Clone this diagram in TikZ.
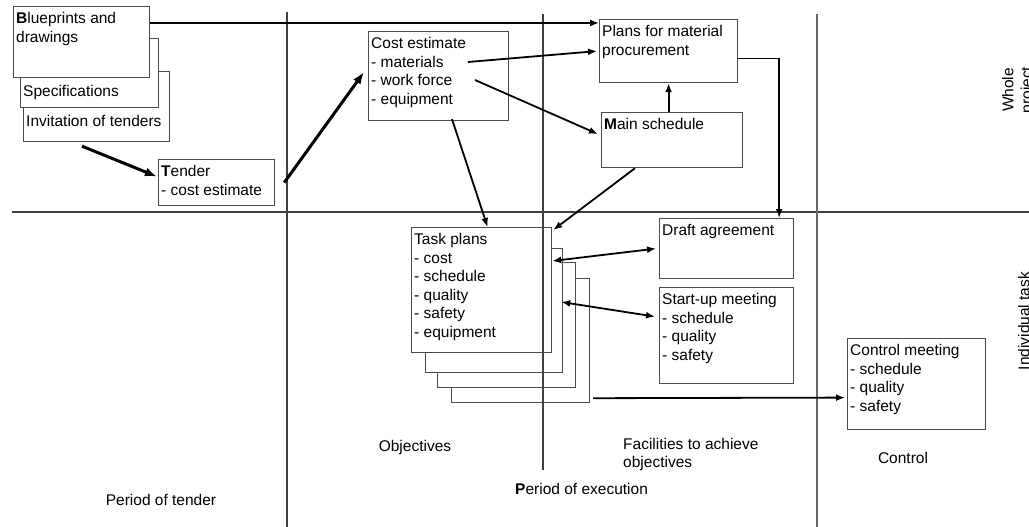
\documentclass[tikz,border=0pt]{standalone}
\usepackage{fontspec}
\setmainfont{Liberation Sans}
\usetikzlibrary{arrows.meta, positioning, calc}

\begin{document}
\begin{tikzpicture}[x=1pt, y=-1pt,
        box/.style={draw=black!70, fill=white, line width=1.2pt, anchor=north west, inner sep=0pt},
        txt/.style={anchor=north west, align=left, inner xsep=3pt, inner ysep=6.5pt, font=\fontsize{15.5}{18.5}\selectfont},
        caption/.style={align=left, font=\fontsize{15.5}{18.5}\selectfont},
        divider/.style={draw=black!75, line width=1.2pt},
        arrow/.style={-{Latex[length=9pt, width=7pt]}, line width=1.8pt},
        bigarrow/.style={-{Latex[length=12pt, width=9pt]}, line width=3pt},
        twoway/.style={{Latex[length=9pt, width=7pt]}-{Latex[length=9pt, width=7pt]}, line width=1.8pt}
    ]
    \useasboundingbox (0,0) rectangle (1029,527);

    % Tender documents (stacked)
    \node[box, minimum width=146, minimum height=70] (invit) at (23,71) {};
    \node[box, minimum width=138, minimum height=69] (spec) at (20,38) {};
    \node[box, minimum width=136, minimum height=71] (blue) at (13,6) {};
    \node[txt] at (blue.north west) {\textbf{B}lueprints and\\drawings};
    \node[txt] at (spec.west |- blue.south) {Specifications};
    \node[txt] at (invit.west |- spec.south) {Invitation of tenders};

    \node[box, minimum width=116, minimum height=46] (tender) at (158,159) {};
    \node[txt] at (tender.north west) {\textbf{T}ender\\- cost estimate};

    % Whole project
    \node[box, minimum width=140, minimum height=89] (cost) at (368,31) {};
    \node[txt] at (cost.north west) {Cost estimate\\- materials\\- work force\\- equipment};
    \node[box, minimum width=138, minimum height=63] (plans) at (599,19) {};
    \node[txt] at (plans.north west) {Plans for material\\procurement};
    \node[box, minimum width=141, minimum height=55] (main) at (601,112) {};
    \node[txt] at (main.north west) {\textbf{M}ain schedule};

    % Individual task
    \node[box, minimum width=138, minimum height=124] (task4) at (451,278) {};
    \node[box, minimum width=138, minimum height=125] (task3) at (437,262) {};
    \node[box, minimum width=137, minimum height=124] (task2) at (425,248) {};
    \node[box, minimum width=140, minimum height=125] (task) at (411,227) {};
    \node[txt] at (task.north west) {Task plans\\- cost\\- schedule\\- quality\\- safety\\- equipment};

    \node[box, minimum width=134, minimum height=60] (draft) at (659,218) {};
    \node[txt] at (draft.north west) {Draft agreement};
    \node[box, minimum width=134, minimum height=96] (startup) at (659,287) {};
    \node[txt] at (startup.north west) {Start-up meeting\\- schedule\\- quality\\- safety};
    \node[box, minimum width=138, minimum height=91] (control) at (847,338) {};
    \node[txt] at (control.north west) {Control meeting\\- schedule\\- quality\\- safety};

    % Dividers
    \draw[divider] (12,212) -- (1029,212);
    \draw[divider] (287,12) -- (287,527);
    \draw[divider] (543,14) -- (543,470);
    \draw[divider, draw=black!60] (817,14) -- (817,527);

    % Column and row captions
    \node[caption] (tenderper) at (161,500) {Period of tender};
    \node[caption] (objectives) at (415,447) {Objectives};
    \node[caption, anchor=north west, inner sep=0pt] (facilities) at (623,438) {Facilities to achieve\\objectives};
    \node[caption, anchor=west, inner sep=0pt] (execper) at (515,489) {\textbf{P}eriod of execution};
    \node[caption] (controlper) at (903,458) {Control};
    \node[caption, rotate=90, anchor=north, align=center, inner sep=0pt] (whole) at (1002,90) {Whole\\project};
    \node[caption, rotate=90, anchor=north, inner sep=0pt] (indiv) at (1018,321) {Individual task};

    % Arrows
    \draw[arrow] ([yshift=-17pt]blue.north east) -- ([yshift=-17pt]blue.north east -| plans.west);
    \draw[bigarrow] ([shift={(59,4)}]invit.south west) -- ([shift={(-1,-6)}]tender.west);
    \draw[bigarrow] ([shift={(9,0)}]tender.east) -- ([shift={(-4,-4)}]cost.west);
    \draw[arrow] ([shift={(100,31)}]cost.north west) -- ([xshift=-2pt]plans.west);
    \draw[arrow] ([shift={(107,49)}]cost.north west) -- ([shift={(-3,-6)}]main.west);
    \draw[arrow] ([shift={(84,-2)}]cost.south west) -- ([xshift=6pt]task.north);
    \draw[arrow] (main.north -| plans.south) -- (plans.south);
    \draw[arrow] ([yshift=-7.5pt]plans.east) -| ([xshift=-15pt]draft.north east);
    \draw[arrow] ([xshift=34pt]main.south west) -- ([shift={(1,3)}]task.north east);
    \draw[twoway] ([shift={(0,34)}]task.north east) -- ([xshift=-3pt]draft.west);
    \draw[twoway] ([shift={(-2,54)}]task2.north east) -- ([shift={(-4,-19)}]startup.west);
    \draw[arrow] ([shift={(3,-5)}]task4.south east) -- ([shift={(-2,13.5)}]control.west);

\end{tikzpicture}
\end{document}
